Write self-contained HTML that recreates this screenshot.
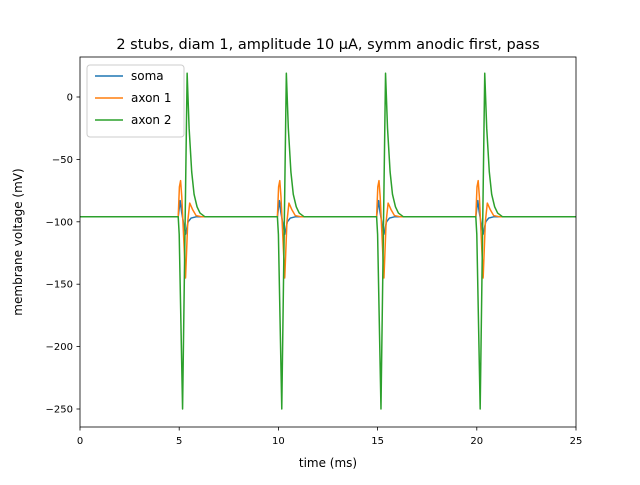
<!DOCTYPE html>
<html><head><meta charset="utf-8"><style>
body{margin:0;background:#fff;font-family:"Liberation Sans","DejaVu Sans",sans-serif}
</style></head><body>
<svg id="chart" width="640" height="480" xmlns="http://www.w3.org/2000/svg" font-family="DejaVu Sans, Liberation Sans, sans-serif">
<rect width="640" height="480" fill="#fff"/>
<text x="328" y="49" text-anchor="middle" font-size="14.5">2 stubs, diam 1, amplitude 10 μA, symm anodic first, pass</text>
<g id="series"></g>
<g id="axes"></g>
<text x="328" y="467" text-anchor="middle" font-size="12">time (ms)</text>
<text transform="translate(22,242) rotate(-90)" text-anchor="middle" font-size="12">membrane voltage (mV)</text>
<g>
<rect x="87" y="65" width="97" height="72" rx="3" fill="#fff" fill-opacity="0.8" stroke="#ccc"/>
<line x1="95" y1="76" x2="123" y2="76" stroke="#1f77b4" stroke-width="1.5"/>
<text x="131" y="80" font-size="12">soma</text>
<line x1="95" y1="98" x2="123" y2="98" stroke="#ff7f0e" stroke-width="1.5"/>
<text x="131" y="102" font-size="12">axon 1</text>
<line x1="95" y1="120" x2="123" y2="120" stroke="#2ca02c" stroke-width="1.5"/>
<text x="131" y="124" font-size="12">axon 2</text>
</g>
</svg>
<script>
const xTicks=[0,5,10,15,20,25];
const yTicks=[0,-50,-100,-150,-200,-250];
const spikeOnsets=[4.95,9.95,14.95,19.95];
const restV=-96;
const somaShape=[[0,-96],[0.1,-83],[0.17,-92],[0.37,-110],[0.5,-100],[0.65,-97],[0.9,-96]];
const axon1Shape=[[0,-96],[0.06,-72],[0.12,-67],[0.18,-80],[0.37,-145],[0.48,-100],[0.58,-85],[0.72,-90],[0.9,-95],[1.2,-96]];
const axon2Shape=[[0,-96],[0.05,-110],[0.22,-250],[0.45,19],[0.55,-25],[0.68,-60],[0.8,-78],[0.95,-88],[1.1,-93],[1.35,-96]];
const X0=80,X1=576,Y0=57,Y1=427;
const xs=t=>X0+(t-0)/(25-0)*(X1-X0);
const ys=v=>97+(v-0)*(409-97)/(-250);
const NS="http://www.w3.org/2000/svg";
function mk(tag,attrs,parent){const e=document.createElementNS(NS,tag);for(const k in attrs)e.setAttribute(k,attrs[k]);parent.appendChild(e);return e;}
const sg=document.getElementById('series');
const series=[["soma",somaShape,"#1f77b4"],["axon-1",axon1Shape,"#ff7f0e"],["axon-2",axon2Shape,"#2ca02c"]];
series.forEach(([name,shape,color])=>{
  const pts=[[0,restV]];
  spikeOnsets.forEach(s=>shape.forEach(([dt,v])=>pts.push([s+dt,v])));
  pts.push([25,restV]);
  const d=pts.map((p,i)=>(i?'L':'M')+xs(p[0]).toFixed(2)+','+ys(p[1]).toFixed(2)).join('');
  const p=mk('path',{d:d,fill:'none',stroke:color,'stroke-width':1.5,'stroke-linejoin':'round'},sg);
  
  
});
const ax=document.getElementById('axes');
mk('rect',{x:X0,y:Y0,width:X1-X0,height:Y1-Y0,fill:'none',stroke:'#000','stroke-width':0.8},ax);
xTicks.forEach(t=>{const x=xs(t);
  mk('line',{x1:x,y1:Y1,x2:x,y2:Y1+3.5,stroke:'#000','stroke-width':0.8},ax);
  const tx=mk('text',{x:x,y:Y1+17,'text-anchor':'middle','font-size':10},ax);tx.textContent=t;
  
  });
yTicks.forEach(v=>{const y=ys(v);
  mk('line',{x1:X0-3.5,y1:y,x2:X0,y2:y,stroke:'#000','stroke-width':0.8},ax);
  const tx=mk('text',{x:X0-7,y:y+3.5,'text-anchor':'end','font-size':10},ax);tx.textContent=v<0?'\u2212'+(-v):v;
  
  });
</script>
</body></html>
